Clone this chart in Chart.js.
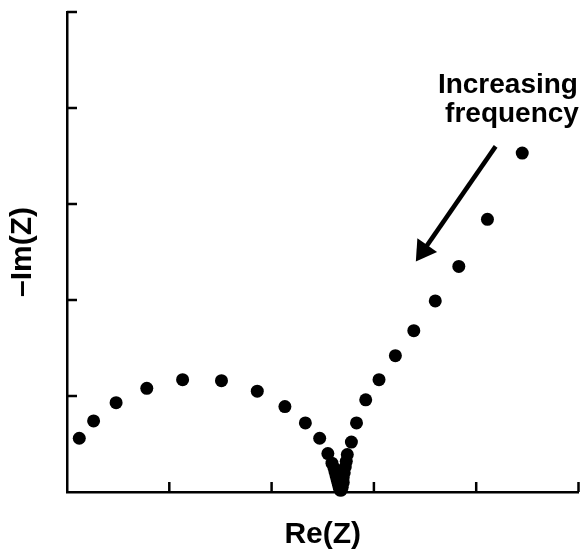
<!DOCTYPE html>
<html>
<head>
<meta charset="utf-8">
<script src="https://cdn.jsdelivr.net/npm/chart.js@4/dist/chart.umd.min.js"></script>
<style>
  html, body { margin: 0; padding: 0; background: #fff; }
  #wrap { width: 585px; height: 554px; }
</style>
</head>
<body>
<div id="wrap"><canvas id="nyquist"></canvas></div>
<script>
// Nyquist plot (arbitrary units, axes run 0..5 with no tick labels)
var reZ = [0.12, 0.26, 0.48, 0.78, 1.13, 1.51, 1.86, 2.13, 2.33, 2.47, 2.55, 2.59, 2.61, 2.62, 2.63, 2.64, 2.65, 2.66, 2.67,
           2.68, 2.69, 2.70, 2.70, 2.71, 2.72, 2.73, 2.74, 2.78, 2.83, 2.92, 3.05, 3.21, 3.39, 3.60, 3.83, 4.11, 4.45];
var negImZ = [0.56, 0.74, 0.93, 1.08, 1.17, 1.16, 1.05, 0.89, 0.72, 0.56, 0.40, 0.30, 0.25, 0.21, 0.17, 0.13, 0.09, 0.05, 0.02,
              0.02, 0.05, 0.10, 0.15, 0.20, 0.26, 0.32, 0.39, 0.52, 0.72, 0.96, 1.17, 1.42, 1.68, 1.99, 2.35, 2.84, 3.53];
var tickVals = [1, 2, 3, 4, 5];

// annotation: text lines and arrow, in data units
var noteLines = ["Increasing", "frequency"];
var noteX = [4.31, 4.35];
var noteY = [4.16, 3.85];
var arrowFrom = [4.19, 3.60];
var arrowTo = [3.41, 2.40];

var points = [];
for (var i = 0; i < reZ.length; i++) {
  points.push({x: reZ[i], y: negImZ[i]});
}

var FONT = "'Liberation Sans', Arial, Helvetica, sans-serif";

// inward tick marks + arrow annotation
var extras = {
  id: 'extras',
  afterDatasetsDraw: function(chart) {
    var ctx = chart.ctx;
    var xs = chart.scales.x, ys = chart.scales.y;
    var area = chart.chartArea;
    ctx.save();
    ctx.strokeStyle = '#000';
    ctx.lineWidth = 2.5;
    ctx.beginPath();
    tickVals.forEach(function(v) {
      var px = xs.getPixelForValue(v);
      ctx.moveTo(px, area.bottom);
      ctx.lineTo(px, area.bottom - 10);
      var py = ys.getPixelForValue(v);
      ctx.moveTo(area.left, py);
      ctx.lineTo(area.left + 10, py);
    });
    ctx.stroke();

    // arrow
    var x1 = xs.getPixelForValue(arrowFrom[0]), y1 = ys.getPixelForValue(arrowFrom[1]);
    var x2 = xs.getPixelForValue(arrowTo[0]), y2 = ys.getPixelForValue(arrowTo[1]);
    var ang = Math.atan2(y2 - y1, x2 - x1);
    var headLen = 20, headW = 12;
    var bx = x2 - headLen * Math.cos(ang), by = y2 - headLen * Math.sin(ang);
    ctx.lineWidth = 4.5;
    ctx.beginPath();
    ctx.moveTo(x1, y1);
    ctx.lineTo(bx + 3 * Math.cos(ang), by + 3 * Math.sin(ang));
    ctx.stroke();
    ctx.fillStyle = '#000';
    ctx.beginPath();
    ctx.moveTo(x2, y2);
    ctx.lineTo(bx + headW * Math.sin(ang), by - headW * Math.cos(ang));
    ctx.lineTo(bx - headW * Math.sin(ang), by + headW * Math.cos(ang));
    ctx.closePath();
    ctx.fill();

    // text
    ctx.font = 'bold 28px ' + FONT;
    ctx.textAlign = 'center';
    ctx.textBaseline = 'alphabetic';
    for (var k = 0; k < noteLines.length; k++) {
      ctx.fillText(noteLines[k], xs.getPixelForValue(noteX[k]), ys.getPixelForValue(noteY[k]));
    }
    ctx.restore();
  }
};

new Chart(document.getElementById('nyquist'), {
  type: 'scatter',
  data: {
    datasets: [{
      data: points,
      backgroundColor: '#000',
      borderColor: '#000',
      borderWidth: 0,
      pointRadius: 6.5,
      pointHoverRadius: 6.5,
      clip: false
    }]
  },
  options: {
    responsive: true,
    maintainAspectRatio: false,
    animation: false,
    layout: { padding: { top: 12, right: 5, bottom: 0, left: 0 } },
    plugins: { legend: { display: false }, tooltip: { enabled: false } },
    scales: {
      x: {
        type: 'linear', min: 0, max: 5,
        grid: { display: false, drawTicks: false },
        ticks: { display: false },
        border: { display: true, color: '#000', width: 2.5 },
        title: {
          display: true, text: 'Re(Z)', color: '#000',
          font: { family: FONT, size: 30, weight: 'bold', lineHeight: 1.2 },
          padding: { top: 25, bottom: 1 }
        }
      },
      y: {
        type: 'linear', min: 0, max: 5,
        grid: { display: false, drawTicks: false },
        ticks: { display: false },
        border: { display: true, color: '#000', width: 2.5 },
        title: {
          display: true, text: '\u2013Im(Z)', color: '#000',
          font: { family: FONT, size: 30, weight: 'bold', lineHeight: 1.2 },
          padding: { top: 5, bottom: 26 }
        }
      }
    }
  },
  plugins: [extras]
});
</script>
</body>
</html>
